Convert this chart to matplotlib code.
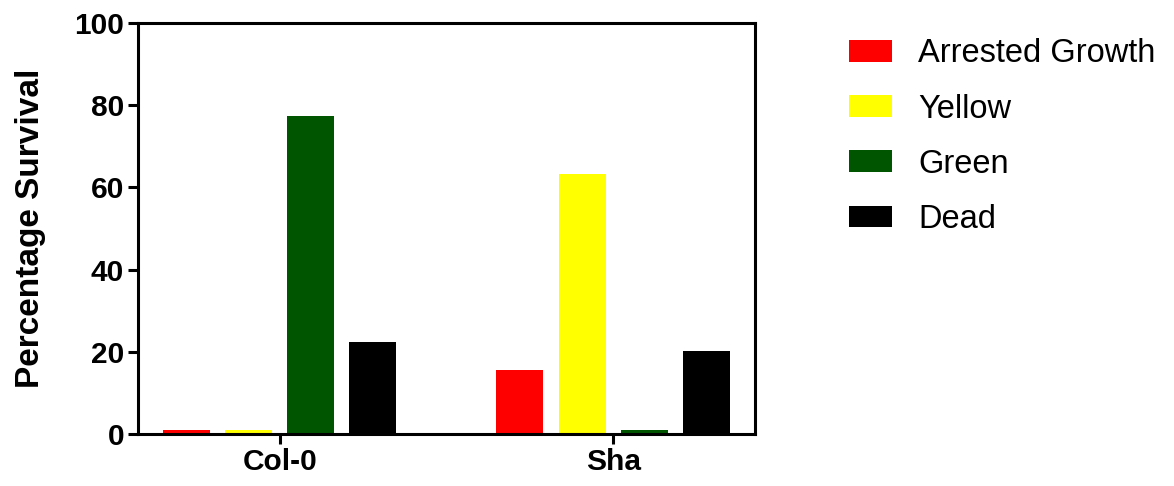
import matplotlib
matplotlib.use("Agg")
import matplotlib.pyplot as plt
import numpy as np

plt.rcParams['font.family'] = ['Liberation Sans', 'DejaVu Sans']

genotypes = ['Col-0', 'Sha']
categories = ['Arrested Growth', 'Yellow', 'Green', 'Dead']
colors = ['#ff0000', '#ffff00', '#005500', '#000000']
values = {
    'Arrested Growth': [0.9, 15.5],
    'Yellow': [0.9, 63.2],
    'Green': [77.3, 0.9],
    'Dead': [22.3, 20.3],
}

fig = plt.figure(figsize=(11.74, 4.86), dpi=100)
ax = fig.add_axes([0.1175, 0.107, 0.5255, 0.8457])

x = np.arange(len(genotypes))
step = 0.1865
width = 0.141
for i, cat in enumerate(categories):
    ax.bar(x + (i - 1.5) * step, values[cat], width, color=colors[i], label=cat)

ax.set_xlim(-0.425, 1.425)
ax.set_ylim(0, 100)
ax.set_yticks([0, 20, 40, 60, 80, 100])
ax.set_xticks(x)
ax.set_xticklabels(genotypes, fontsize=21.5, fontweight='bold')
for lab in ax.get_yticklabels():
    lab.set_fontsize(21.5)
    lab.set_fontweight('bold')
ax.set_ylabel('Percentage Survival', fontsize=24, fontweight='bold', labelpad=20)

for sp in ax.spines.values():
    sp.set_linewidth(2.2)
ax.tick_params(axis='both', direction='out', length=7, width=2.2, pad=3)

fig.legend(loc='upper left', bbox_to_anchor=(0.723, 0.921), frameon=False,
           fontsize=23.5, handlelength=1.32, handleheight=0.64, labelspacing=0.74,
           handletextpad=0.8, borderpad=0, borderaxespad=0)

fig.savefig('out.png', dpi=100)
